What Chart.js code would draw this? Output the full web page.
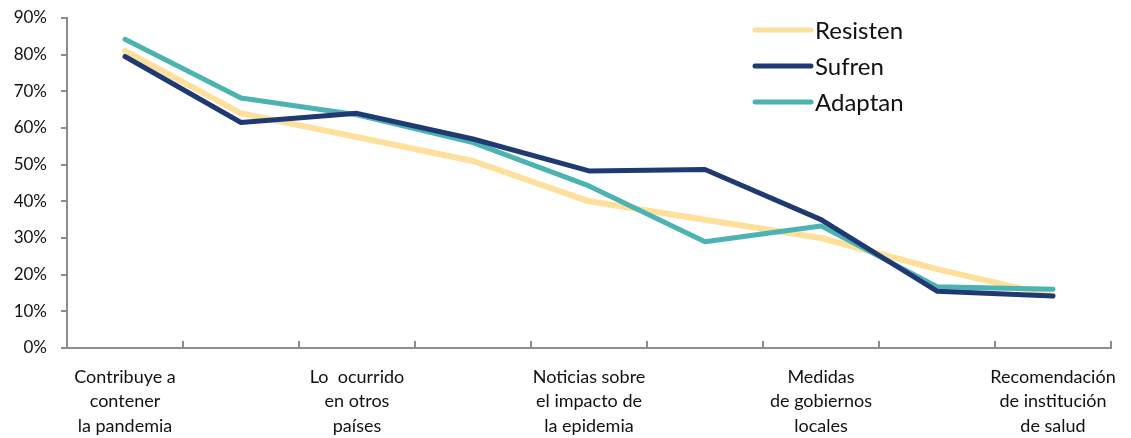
<!DOCTYPE html>
<html>
<head>
<meta charset="utf-8">
<script src="https://cdn.jsdelivr.net/npm/chart.js@4/dist/chart.umd.min.js"></script>
<style>
  html, body { margin: 0; padding: 0; background: #ffffff; }
  #wrap { width: 1131px; height: 438px; position: relative; }
</style>
</head>
<body>
<div id="wrap"><canvas id="c" width="1131" height="438"></canvas></div>
<script>
const categories = [
  ["Contribuye a", "contener", "la pandemia"],
  "",
  ["Lo  ocurrido", "en otros", "países"],
  "",
  ["Noticias sobre", "el impacto de", "la epidemia"],
  "",
  ["Medidas", "de gobiernos", "locales"],
  "",
  ["Recomendación", "de institución", "de salud"]
];
const seriesNames = ["Resisten", "Sufren", "Adaptan"];
const resisten = [81, 64, 57.5, 51, 40, 35, 30, 21.5, 14.2];
const sufren   = [79.5, 61.5, 64, 57, 48.3, 48.7, 35, 15.5, 14.2];
const adaptan  = [84.2, 68.2, 63.6, 56, 44.2, 29, 33.3, 16.7, 16];
const yTicks = [0, 10, 20, 30, 40, 50, 60, 70, 80, 90];

const colors = { Resisten: "#FEE09B", Sufren: "#1F3A72", Adaptan: "#4BB3B1" };
const FONT = "Lato, 'Open Sans', 'Liberation Sans', sans-serif";
const AXIS = "#8C8C8C";

const innerTicks = {
  id: "innerTicks",
  afterDraw(chart) {
    const x = chart.scales.x, y = chart.scales.y, ctx = chart.ctx;
    const step = x.getPixelForValue(1) - x.getPixelForValue(0);
    const base = y.getPixelForValue(0);
    ctx.save();
    ctx.strokeStyle = AXIS;
    ctx.lineWidth = 2;
    for (let i = 0; i < categories.length; i++) {
      const px = Math.round(x.getPixelForValue(i) + step / 2);
      ctx.beginPath();
      ctx.moveTo(px, base);
      ctx.lineTo(px, base - 7);
      ctx.stroke();
    }
    ctx.restore();
  }
};

const lineLegend = {
  id: "lineLegend",
  afterDraw(chart) {
    const ctx = chart.ctx, area = chart.chartArea;
    const x0 = area.left + 688, len = 56;
    ctx.save();
    ctx.font = "24px " + FONT;
    ctx.textBaseline = "middle";
    ctx.lineCap = "round";
    seriesNames.forEach((name, i) => {
      const yy = area.top + 12 + i * 36;
      ctx.strokeStyle = colors[name];
      ctx.lineWidth = 5;
      ctx.beginPath();
      ctx.moveTo(x0, yy);
      ctx.lineTo(x0 + len, yy);
      ctx.stroke();
      ctx.fillStyle = "#111111";
      ctx.fillText(name, x0 + len + 4, yy + 1);
    });
    ctx.restore();
  }
};

function ds(name, data, order, width) {
  return {
    label: name, data, order,
    borderColor: colors[name], backgroundColor: colors[name],
    borderWidth: width, pointRadius: 0, tension: 0, fill: false,
    borderJoinStyle: "round", borderCapStyle: "round"
  };
}

new Chart(document.getElementById("c"), {
  type: "line",
  data: {
    labels: categories,
    datasets: [
      ds("Sufren", sufren, 1, 5),
      ds("Adaptan", adaptan, 2, 5),
      ds("Resisten", resisten, 3, 6)
    ]
  },
  plugins: [innerTicks, lineLegend],
  options: {
    responsive: false,
    animation: false,
    layout: { padding: { top: 18, right: 20, left: 0, bottom: 0 } },
    plugins: { legend: { display: false }, tooltip: { enabled: false } },
    scales: {
      x: {
        type: "category",
        offset: true,
        grid: { offset: true, drawOnChartArea: false, drawTicks: false },
        border: { display: true, color: AXIS, width: 2 },
        ticks: {
          autoSkip: false, maxRotation: 0, minRotation: 0, padding: 17,
          color: "#111111",
          font: { family: FONT, size: 18, lineHeight: 1.35 }
        },
        afterFit(s) { s.height = 90; s.paddingLeft = 0; s.paddingRight = 0; }
      },
      y: {
        min: 0, max: 90,
        afterBuildTicks(s) { s.ticks = yTicks.map(v => ({ value: v })); },
        grid: { drawOnChartArea: false, drawTicks: true, tickLength: 6, color: AXIS, lineWidth: 2 },
        border: { display: true, color: AXIS, width: 2 },
        ticks: {
          padding: 14, color: "#111111",
          font: { family: FONT, size: 17 },
          callback: v => v + "%"
        },
        afterFit(s) { s.width = 67; s.paddingTop = 0; s.paddingBottom = 0; }
      }
    }
  }
});
</script>
</body>
</html>
